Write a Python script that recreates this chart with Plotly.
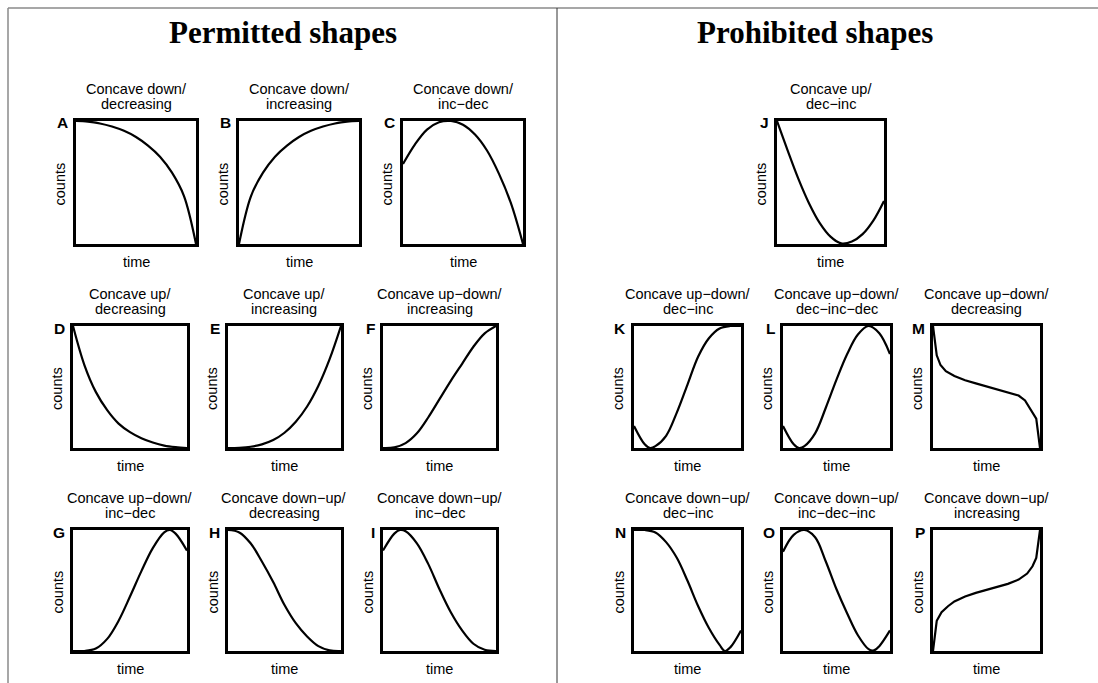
import plotly.graph_objects as go

W, H = 1098, 683

# ---------------- data ----------------
letters = ["A", "B", "C", "D", "E", "F", "G", "H", "I",
           "J", "K", "L", "M", "N", "O", "P"]
titles_line1 = ["Concave down/", "Concave down/", "Concave down/",
                "Concave up/", "Concave up/", "Concave up\u2212down/",
                "Concave up\u2212down/", "Concave down\u2212up/", "Concave down\u2212up/",
                "Concave up/", "Concave up\u2212down/", "Concave up\u2212down/",
                "Concave up\u2212down/", "Concave down\u2212up/", "Concave down\u2212up/",
                "Concave down\u2212up/"]
titles_line2 = ["decreasing", "increasing", "inc\u2212dec",
                "decreasing", "increasing", "increasing",
                "inc\u2212dec", "decreasing", "inc\u2212dec",
                "dec\u2212inc", "dec\u2212inc", "dec\u2212inc\u2212dec",
                "decreasing", "dec\u2212inc", "inc\u2212dec\u2212inc",
                "increasing"]

t11 = [0, .1, .2, .3, .4, .5, .6, .7, .8, .9, 1]
A_y = [1.0, 0.995, 0.98, 0.955, 0.92, 0.87, 0.80, 0.71, 0.58, 0.39, 0.0]
B_y = [0.0, 0.39, 0.58, 0.71, 0.80, 0.87, 0.92, 0.955, 0.98, 0.995, 1.0]
C_y = [0.65, 0.81, 0.93, 0.99, 1.0, 0.97, 0.89, 0.76, 0.57, 0.33, 0.0]
D_y = [1.0, 0.68, 0.46, 0.31, 0.20, 0.13, 0.08, 0.045, 0.02, 0.007, 0.0]
E_y = [0.0, 0.002, 0.01, 0.03, 0.065, 0.125, 0.215, 0.34, 0.51, 0.73, 1.0]
F_y = [0.0, 0.005, 0.04, 0.12, 0.25, 0.40, 0.55, 0.69, 0.83, 0.94, 1.0]
H_y = [1.0, 0.98, 0.89, 0.74, 0.57, 0.38, 0.23, 0.12, 0.04, 0.005, 0.0]
J_y = [1.0, 0.76, 0.53, 0.33, 0.17, 0.06, 0.005, 0.02, 0.08, 0.19, 0.35]

G_x = [0, .1, .2, .3, .4, .5, .6, .7, .8, .85, .9, 1]
G_y = [0.0, 0.0, 0.02, 0.10, 0.25, 0.45, 0.66, 0.85, 0.98, 1.0, 0.97, 0.83]
I_x = [0, .1, .15, .2, .3, .4, .5, .6, .7, .8, .9, 1]
I_y = [0.83, 0.97, 1.0, 0.99, 0.89, 0.72, 0.51, 0.32, 0.17, 0.06, 0.01, 0.0]
K_x = [0, .1, .15, .2, .3, .4, .5, .6, .7, .8, .9, 1]
K_y = [0.18, 0.03, 0.0, 0.015, 0.10, 0.29, 0.52, 0.75, 0.90, 0.98, 1.0, 1.0]
L_x = [0, .1, .15, .2, .3, .4, .5, .6, .7, .8, .9, 1]
L_y = [0.18, 0.03, 0.0, 0.015, 0.12, 0.33, 0.56, 0.77, 0.93, 1.0, 0.94, 0.77]
M_x = [0, 0.035, 0.07, 0.12, 0.2, 0.3, 0.4, 0.5, 0.6, 0.7, 0.8, 0.86, 0.92, 0.965, 1.0]
M_y = [1.0, 0.76, 0.68, 0.63, 0.59, 0.555, 0.53, 0.505, 0.48, 0.455, 0.43, 0.39, 0.31, 0.24, 0.0]
N_x = [0, .1, .2, .3, .4, .5, .6, .7, .8, .85, .9, 1]
N_y = [1.0, 1.0, 0.98, 0.90, 0.77, 0.58, 0.37, 0.19, 0.05, 0.0, 0.03, 0.17]
O_x = [0, .1, .2, .3, .4, .5, .6, .7, .8, .85, .9, 1]
O_y = [0.82, 0.96, 1.0, 0.94, 0.74, 0.51, 0.31, 0.13, 0.015, 0.005, 0.04, 0.17]
P_x = [0, 0.035, 0.08, 0.14, 0.2, 0.3, 0.4, 0.5, 0.6, 0.7, 0.8, 0.88, 0.93, 0.965, 1.0]
P_y = [0.0, 0.25, 0.32, 0.37, 0.41, 0.45, 0.48, 0.505, 0.53, 0.555, 0.59, 0.64, 0.70, 0.77, 1.0]

curves_x = [t11, t11, t11, t11, t11, t11, G_x, t11, I_x,
            t11, K_x, L_x, M_x, N_x, O_x, P_x]
curves_y = [A_y, B_y, C_y, D_y, E_y, F_y, G_y, H_y, I_y,
            J_y, K_y, L_y, M_y, N_y, O_y, P_y]
line_shapes = ["spline"] * 12 + ["linear", "spline", "spline", "linear"]

section_titles = ["Permitted shapes", "Prohibited shapes"]

# ---------------- layout geometry (pixels, outer box edges) ----------------
boxes = [
    (73, 118, 199, 247), (236, 118, 362, 247), (400, 118, 526, 247),
    (70, 323, 190, 451), (225, 323, 344, 451), (380, 323, 499, 451),
    (70, 527, 190, 654), (225, 527, 344, 654), (380, 527, 499, 654),
    (774, 118, 887, 247),
    (631, 323, 744, 451), (780, 323, 893, 451), (930, 323, 1043, 451),
    (631, 527, 744, 654), (780, 527, 893, 654), (930, 527, 1043, 654),
]
LW = 3

def px(x):
    return x / W

def py(y):
    return 1 - y / H

fig = go.Figure()
layout = dict(width=W, height=H, margin=dict(l=0, r=0, t=0, b=0),
              paper_bgcolor="white", plot_bgcolor="white", showlegend=False)
annotations = []
sub_font = dict(family="Liberation Sans, Arial, sans-serif", size=14.5, color="black")
let_font = dict(family="Liberation Sans, Arial, sans-serif", size=15.5, color="black")

for i, (l, t, r, b) in enumerate(boxes):
    n = i + 1
    xa = "xaxis" if n == 1 else f"xaxis{n}"
    ya = "yaxis" if n == 1 else f"yaxis{n}"
    common = dict(range=[0, 1], showticklabels=False, ticks="", showgrid=False,
                  zeroline=False, showline=True, mirror=True, linewidth=LW,
                  linecolor="black", fixedrange=True)
    layout[xa] = dict(domain=[px(l + LW), px(r - LW)], anchor=f"y{'' if n == 1 else n}", **common)
    layout[ya] = dict(domain=[py(b - LW), py(t + LW)], anchor=f"x{'' if n == 1 else n}", **common)
    fig.add_trace(go.Scatter(x=curves_x[i], y=curves_y[i], mode="lines",
                             line=dict(color="black", width=2.2, shape=line_shapes[i]),
                             xaxis=f"x{'' if n == 1 else n}", yaxis=f"y{'' if n == 1 else n}",
                             hoverinfo="skip"))
    cx = (l + r) / 2
    cy = (t + b) / 2
    annotations += [
        dict(text=titles_line1[i], x=px(cx), y=py(t - 29), xref="paper", yref="paper",
             xanchor="center", yanchor="middle", showarrow=False, font=sub_font),
        dict(text=titles_line2[i], x=px(cx), y=py(t - 14), xref="paper", yref="paper",
             xanchor="center", yanchor="middle", showarrow=False, font=sub_font),
        dict(text=f"<b>{letters[i]}</b>", x=px(l - 3), y=py(t + 5), xref="paper", yref="paper",
             xanchor="right", yanchor="middle", showarrow=False, font=let_font),
        dict(text="counts", x=px(l - 13), y=py(cy + 2), xref="paper", yref="paper",
             xanchor="center", yanchor="middle", showarrow=False, textangle=-90, font=sub_font),
        dict(text="time", x=px(cx), y=py(b + 15), xref="paper", yref="paper",
             xanchor="center", yanchor="middle", showarrow=False, font=sub_font),
    ]

title_font = dict(family="Liberation Serif, Times New Roman, serif", size=31, color="black")
annotations += [
    dict(text=f"<b>{section_titles[0]}</b>", x=px(283), y=py(32), xref="paper", yref="paper",
         xanchor="center", yanchor="middle", showarrow=False, font=title_font),
    dict(text=f"<b>{section_titles[1]}</b>", x=px(815), y=py(32), xref="paper", yref="paper",
         xanchor="center", yanchor="middle", showarrow=False, font=title_font),
]
layout["annotations"] = annotations
layout["shapes"] = [
    dict(type="line", xref="paper", yref="paper", x0=px(8), x1=1, y0=py(8), y1=py(8),
         line=dict(color="#8a8a8a", width=1.5)),
    dict(type="line", xref="paper", yref="paper", x0=px(8), x1=px(8), y0=py(8), y1=0,
         line=dict(color="#8a8a8a", width=1.5)),
    dict(type="line", xref="paper", yref="paper", x0=px(557), x1=px(557), y0=py(8), y1=0,
         line=dict(color="#333333", width=1)),
]
fig.update_layout(**layout)
fig.write_html("out.html")
